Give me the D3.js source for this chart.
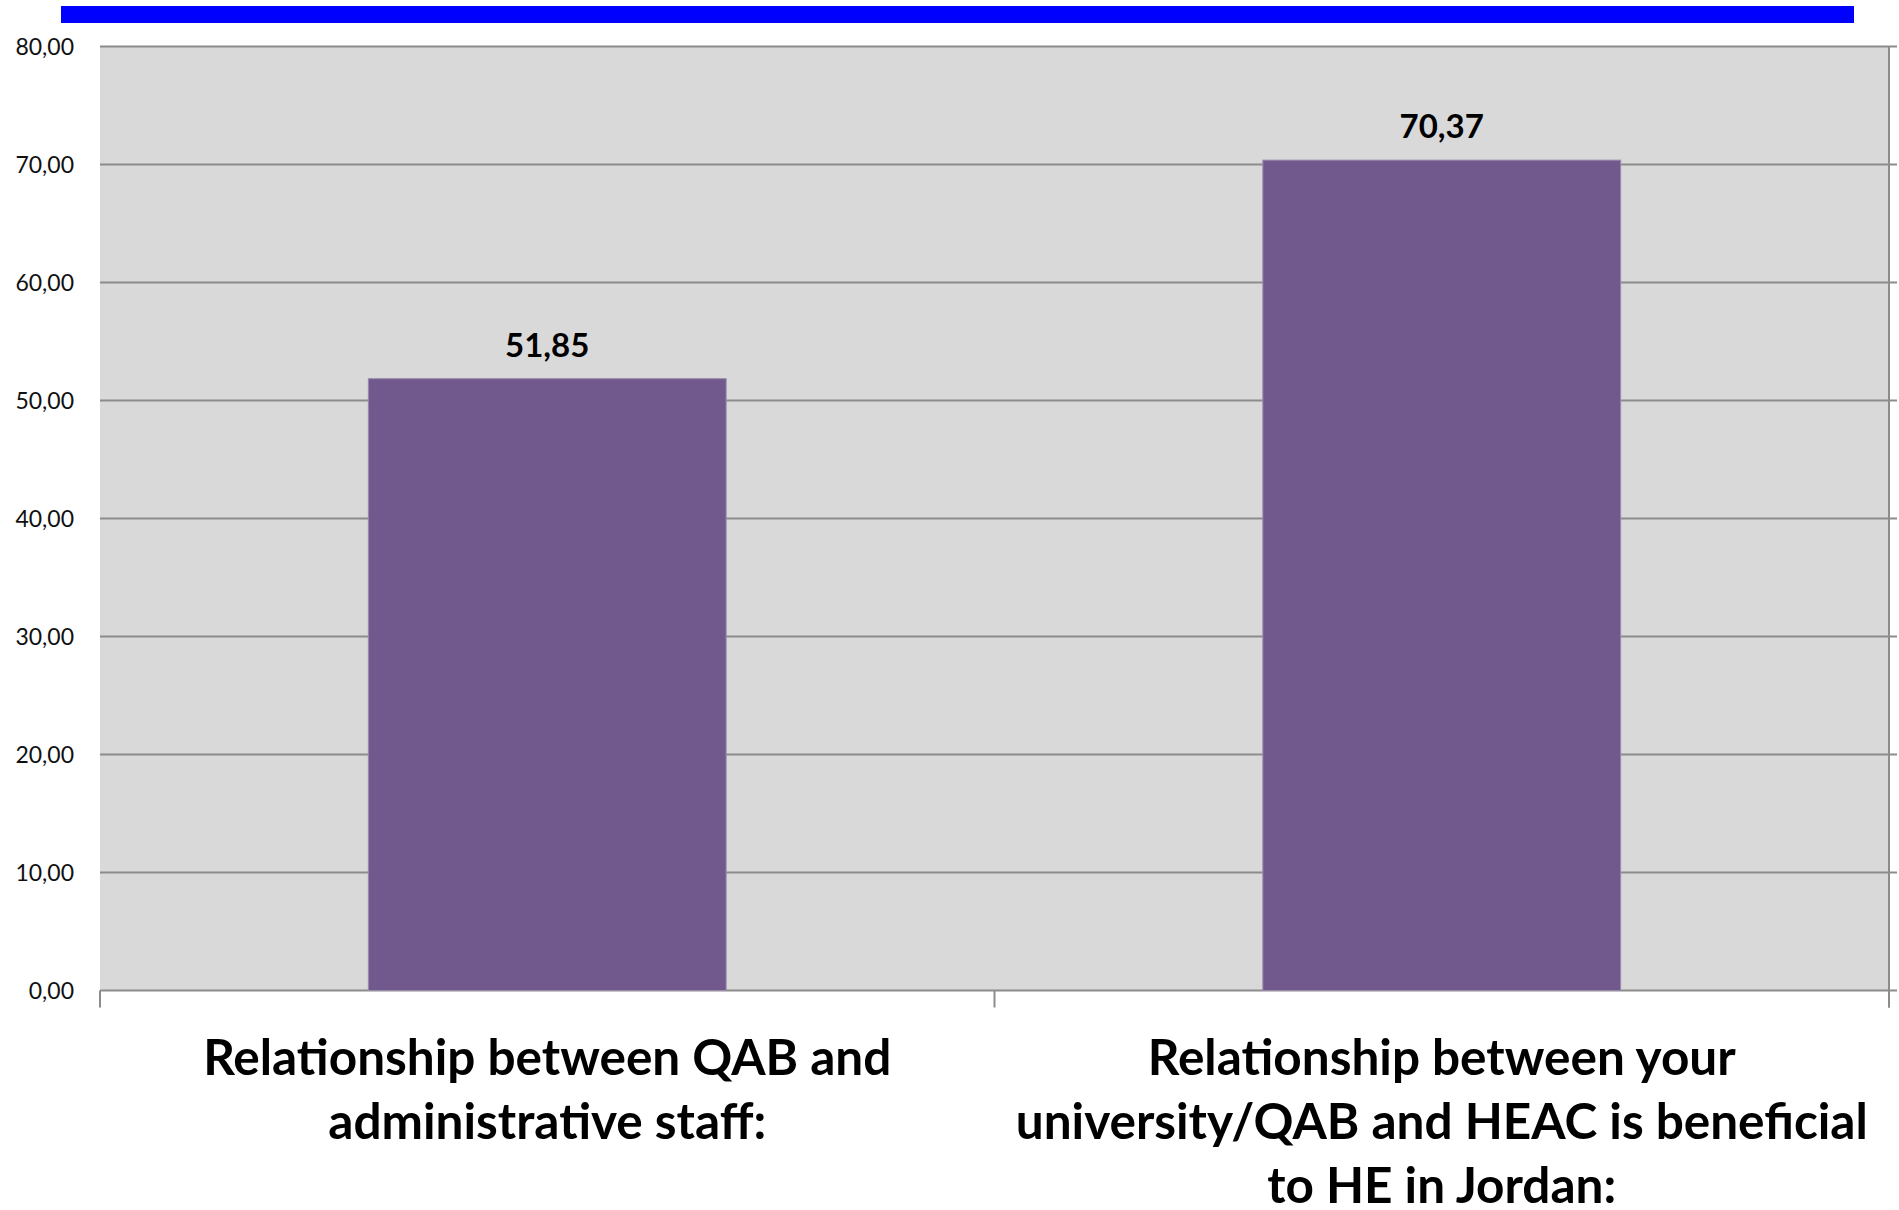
<!DOCTYPE html>
<html>
<head>
<meta charset="utf-8">
<script src="https://cdn.jsdelivr.net/npm/d3@7"></script>
<style>
  body { margin: 0; background: #fff; }
  text { font-family: Lato, "Open Sans", sans-serif; }
</style>
</head>
<body>
<svg id="chart" width="1899" height="1210"></svg>
<script>
// values
const categories = [
    ["Relationship between QAB and", "administrative staff:"],
    ["Relationship between your", "university/QAB and HEAC is beneficial", "to HE in Jordan:"]
];
const values = [51.85, 70.37];
const yTicks = [0, 10, 20, 30, 40, 50, 60, 70, 80];

const svg = d3.select('#chart');
const plotLeft = 100, plotRight = 1889, plotTop = 46.5, plotBottom = 990.5;

const x = d3.scaleBand()
    .domain(d3.range(categories.length))
    .range([plotLeft, plotRight])
    .padding(0);

const y = d3.scaleLinear()
    .domain([0, 80])
    .range([plotBottom, plotTop]);

const fmt = v => d3.format('.2f')(v).replace('.', ',');

// blue banner on top
svg.append('rect')
    .attr('x', 61).attr('y', 6)
    .attr('width', 1793).attr('height', 17)
    .attr('fill', '#0000ff');

// plot background
svg.append('rect')
    .attr('x', plotLeft).attr('y', plotTop)
    .attr('width', plotRight - plotLeft).attr('height', plotBottom - plotTop)
    .attr('fill', '#d9d9d9');

// gridlines
svg.selectAll('line.grid')
    .data(yTicks).enter()
    .append('line')
    .attr('class', 'grid')
    .attr('x1', plotLeft).attr('x2', plotRight + 8)
    .attr('y1', d => y(d)).attr('y2', d => y(d))
    .attr('stroke', '#8c8c8c')
    .attr('stroke-width', 2);

// y tick labels
svg.selectAll('text.ytick')
    .data(yTicks).enter()
    .append('text')
    .attr('class', 'ytick')
    .attr('x', 74)
    .attr('y', d => y(d) + 8)
    .attr('text-anchor', 'end')
    .attr('font-size', 23)
    .attr('fill', '#111')
    .text(fmt);

// right border
svg.append('line')
    .attr('x1', plotRight).attr('x2', plotRight)
    .attr('y1', plotTop).attr('y2', plotBottom + 17)
    .attr('stroke', '#8c8c8c').attr('stroke-width', 2);

// x category ticks
const xTicks = x.domain().map(i => x(i)).concat([plotRight]);
svg.selectAll('line.xtick')
    .data(xTicks).enter()
    .append('line')
    .attr('class', 'xtick')
    .attr('x1', d => d).attr('x2', d => d)
    .attr('y1', plotBottom).attr('y2', plotBottom + 17)
    .attr('stroke', '#8c8c8c').attr('stroke-width', 2);

// bars
const barW = x.bandwidth() * 0.4;
svg.selectAll('rect.bar')
    .data(values).enter()
    .append('rect')
    .attr('class', 'bar')
    .attr('x', (d, i) => x(i) + (x.bandwidth() - barW) / 2)
    .attr('y', d => y(d))
    .attr('width', barW)
    .attr('height', d => y(0) - y(d))
    .attr('fill', '#71598d')
    .attr('stroke', '#9a8aae')
    .attr('stroke-width', 1);

// value labels
svg.selectAll('text.val')
    .data(values).enter()
    .append('text')
    .attr('class', 'val')
    .attr('x', (d, i) => x(i) + x.bandwidth() / 2)
    .attr('y', d => y(d) - 22)
    .attr('text-anchor', 'middle')
    .attr('font-size', 33)
    .attr('font-weight', 'bold')
    .text(fmt);

// category labels
categories.forEach((lines, i) => {
    svg.append('text')
        .attr('x', x(i) + x.bandwidth() / 2)
        .attr('y', 1075)
        .attr('text-anchor', 'middle')
        .attr('font-size', 49.5)
        .attr('font-weight', 'bold')
        .selectAll('tspan')
        .data(lines).enter()
        .append('tspan')
        .attr('x', x(i) + x.bandwidth() / 2)
        .attr('dy', (d, j) => j === 0 ? 0 : 64)
        .text(d => d);
});
</script>
</body>
</html>
